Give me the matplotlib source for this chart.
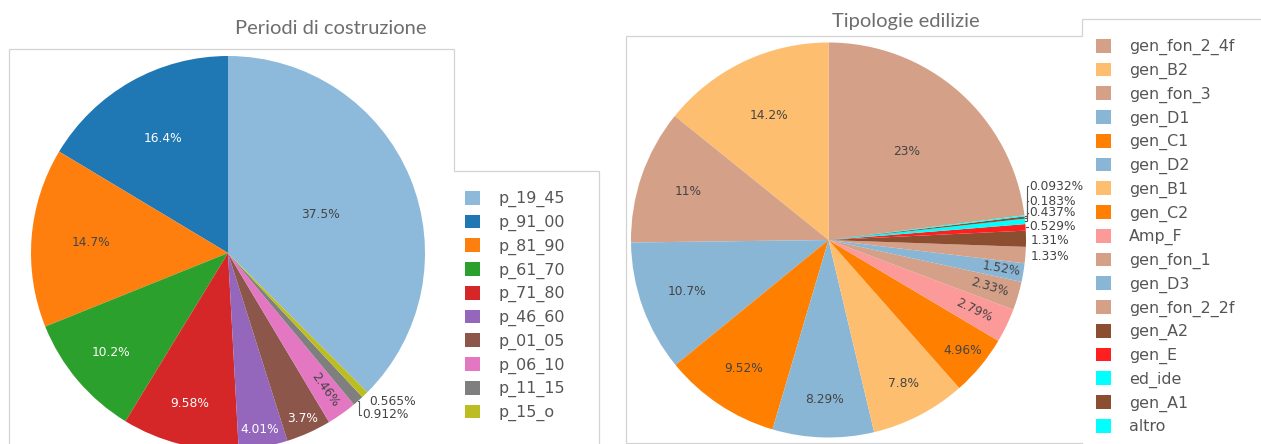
import matplotlib
matplotlib.use("Agg")
import matplotlib.pyplot as plt
from matplotlib.lines import Line2D
import numpy as np

W, H = 1261, 444

# ---------------- data ----------------
periodi_labels = ["p_19_45", "p_91_00", "p_81_90", "p_61_70", "p_71_80",
                  "p_46_60", "p_01_05", "p_06_10", "p_11_15", "p_15_o"]
periodi_values = [37.5, 16.4, 14.7, 10.2, 9.58, 4.01, 3.7, 2.46, 0.912, 0.565]
periodi_colors = ["#8db9da", "#1f77b4", "#ff7f0e", "#2ca02c", "#d62728",
                  "#9467bd", "#8c564b", "#e377c2", "#7f7f7f", "#bcbd22"]

tipologie_labels = ["gen_fon_2_4f", "gen_B2", "gen_fon_3", "gen_D1", "gen_C1",
                    "gen_D2", "gen_B1", "gen_C2", "Amp_F", "gen_fon_1", "gen_D3",
                    "gen_fon_2_2f", "gen_A2", "gen_E", "ed_ide", "gen_A1", "altro"]
tipologie_values = [23, 14.2, 11, 10.7, 9.52, 8.29, 7.8, 4.96, 2.79, 2.33, 1.52,
                    1.33, 1.31, 0.529, 0.437, 0.183, 0.0932]
tipologie_colors = ["#d4a088", "#fdbf6f", "#d4a088", "#8ab6d6", "#ff7f00",
                    "#8ab6d6", "#fdbf6f", "#ff7f00", "#fb9a99", "#d4a088", "#8ab6d6",
                    "#d4a088", "#8c4e30", "#ff1f1f", "#00ffff", "#8c4e30", "#00ffff"]

titles = ["Periodi di costruzione", "Tipologie edilizie"]

# ---------------- styles (label placement) ----------------
DARK = "#444444"
left_style = {
    "center": (228, 253), "R": 197,
    "inside_r": [0.51, 0.67, 0.70, 0.78, 0.79, 0.91, 0.92, 0.85, None, None],
    "inside_c": [DARK, "white", DARK, "white", "white", "white", "white", DARK, None, None],
    "rotate": [False] * 7 + [True, False, False],
    # index: (x, y, leader)
    "outside": {9: (0.716, -0.756, False), 8: (0.680, -0.822, True)},
    "leader_x": 0.665,
}
right_style = {
    "center": (828.5, 240), "R": 197.5,
    "inside_r": [0.60, 0.70, 0.75, 0.76, 0.78, 0.81, 0.82, 0.88, 0.82, 0.85, 0.89,
                 None, None, None, None, None, None],
    "inside_c": [DARK] * 11 + [None] * 6,
    "rotate": [False] * 8 + [True, True, True] + [False] * 6,
    "outside": {16: (1.015, 0.273, True), 15: (1.015, 0.197, True),
                14: (1.015, 0.137, True), 13: (1.015, 0.066, True),
                12: (1.025, -0.005, False), 11: (1.025, -0.086, False)},
    "leader_x": 1.005,
}

fig = plt.figure(figsize=(W / 100, H / 100), dpi=100)
fig.patch.set_facecolor("white")


def px(x, y):
    return x / W, 1 - y / H


def frame(points):
    xs = [p[0] / W for p in points]
    ys = [1 - p[1] / H for p in points]
    fig.add_artist(Line2D(xs, ys, transform=fig.transFigure, color="#d3d3d3",
                          lw=0.9, solid_joinstyle="miter"))


def draw_pie(values, colors, style):
    cx, cy = style["center"]
    R = style["R"]
    ax = fig.add_axes([(cx - R) / W, (H - cy - R) / H, 2 * R / W, 2 * R / H])
    total = sum(values)
    wedges, _ = ax.pie(values, colors=colors, startangle=90 - 360 * values[0] / total,
                       counterclock=True, radius=1,
                       wedgeprops=dict(linewidth=0))
    ax.set_xlim(-1, 1)
    ax.set_ylim(-1, 1)
    ax.set_aspect("equal")
    ax.axis("off")
    for i, (w, v) in enumerate(zip(wedges, values)):
        mid = np.deg2rad((w.theta1 + w.theta2) / 2)
        txt = f"{v:g}%"
        r = style["inside_r"][i]
        if r is not None:
            rot = 0
            if style["rotate"][i]:
                rot = np.rad2deg(mid)
                rot = (rot + 180) % 360 - 180
            ax.text(r * np.cos(mid), r * np.sin(mid), txt, ha="center", va="center",
                    rotation=rot, rotation_mode="anchor", fontsize=8.8,
                    color=style["inside_c"][i])
        elif i in style["outside"]:
            tx, ty, leader = style["outside"][i]
            ax.text(tx, ty, txt, ha="left", va="center", fontsize=8.8, color=DARK,
                    clip_on=False)
            if leader:
                ex, ey = np.cos(mid), np.sin(mid)
                lx = style["leader_x"]
                ax.plot([ex, lx, lx, tx - 0.003], [ey, ey, ty, ty], color="#555555",
                        lw=0.8, clip_on=False, solid_joinstyle="miter")
    return wedges


# frames
frame([(8.5, 445), (8.5, 49.5), (453.5, 49.5), (453.5, 170.5), (598.5, 170.5), (598.5, 445)])
frame([(1082, 442.5), (625.5, 442.5), (625.5, 36.5), (1081.5, 36.5), (1081.5, 19.5), (1262, 19.5)])

w_left = draw_pie(periodi_values, periodi_colors, left_style)
w_right = draw_pie(tipologie_values, tipologie_colors, right_style)

# titles
fig.text(*px(330.5, 28), titles[0], ha="center", va="center", fontsize=14.5,
         family="Lato", color="#6e6e6e")
fig.text(*px(906, 21), titles[1], ha="center", va="center", fontsize=14.5,
         family="Lato", color="#6e6e6e")

# legends
FS = 11.4
fs_px = FS * 100 / 72
leg_kw = dict(loc="upper left", frameon=False, fontsize=FS, borderpad=0,
              borderaxespad=0, handlelength=15 / fs_px, handleheight=15 / fs_px,
              handletextpad=(1129 - 1111) / fs_px, labelspacing=0.46,
              labelcolor="#555555")
fig.legend(w_left, periodi_labels, bbox_to_anchor=px(465, 191), **leg_kw)
fig.legend(w_right, tipologie_labels, bbox_to_anchor=px(1096, 39), **leg_kw)

fig.savefig("out.png", dpi=100, facecolor="white")
